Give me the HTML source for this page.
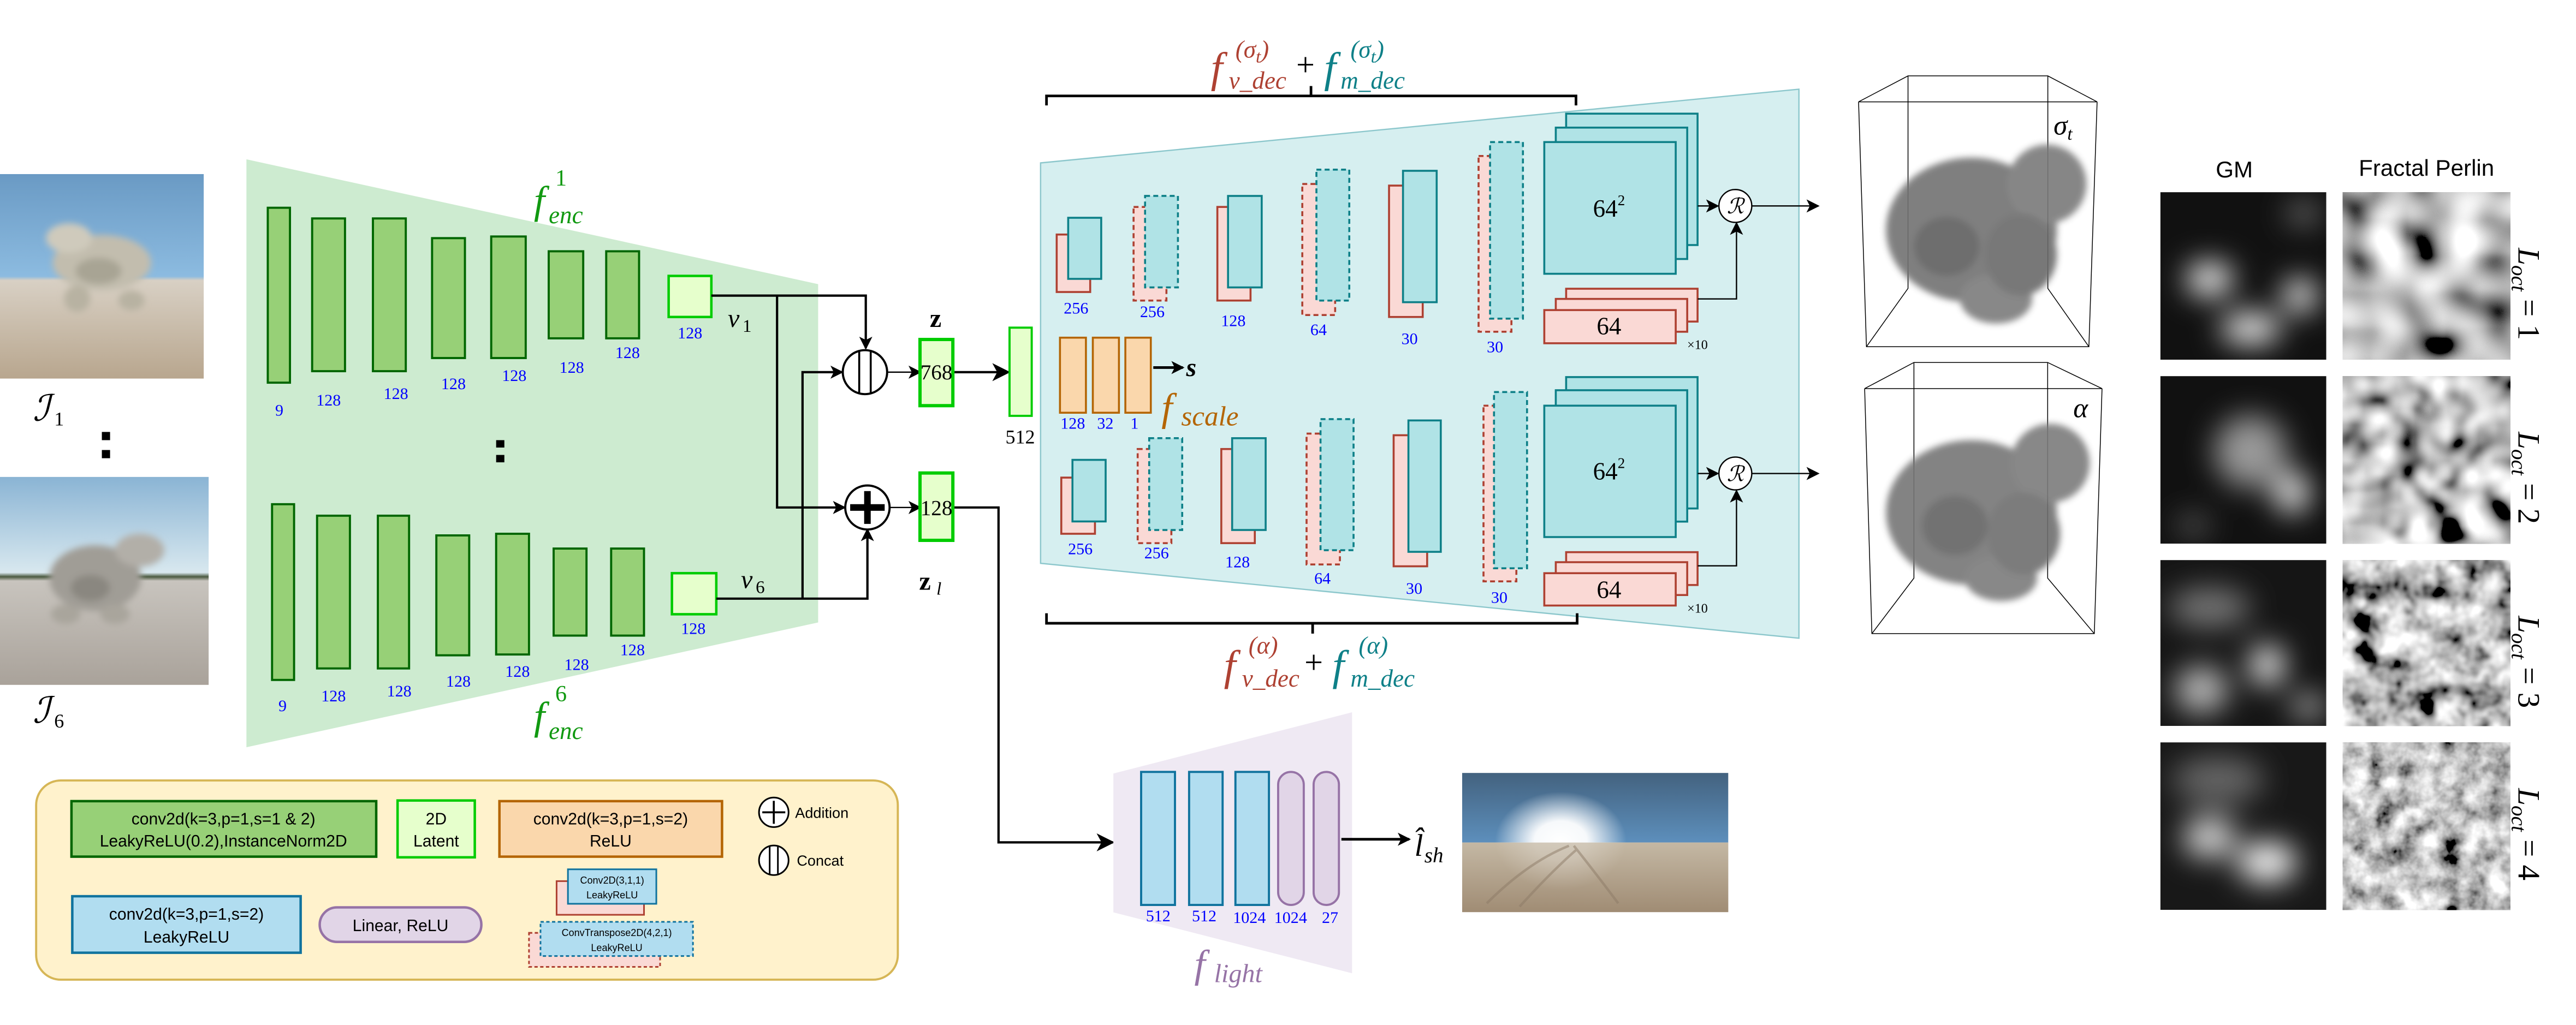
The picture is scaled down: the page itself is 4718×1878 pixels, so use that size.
<!DOCTYPE html>
<html><head><meta charset="utf-8"><style>
html,body{margin:0;padding:0;background:#fff;}
svg{display:block;}
.n{font-family:"Liberation Serif",serif;fill:#0000ff;font-size:10px;text-anchor:middle;}
.m{font-family:"Liberation Serif",serif;font-style:italic;}
.s{font-family:"Liberation Sans",sans-serif;}
</style></head><body>
<svg width="4718" height="1878" viewBox="0 0 1568 624.1" preserveAspectRatio="none" xmlns="http://www.w3.org/2000/svg">
<defs>
<marker id="ar" markerWidth="8" markerHeight="8" refX="7" refY="4" orient="auto" markerUnits="userSpaceOnUse"><path d="M0,0 L8,4 L0,8 L2,4 z" fill="#000"/></marker>
<marker id="ar2" markerWidth="11" markerHeight="11" refX="10" refY="5.5" orient="auto" markerUnits="userSpaceOnUse"><path d="M0,0 L11,5.5 L0,11 L3,5.5 z" fill="#000"/></marker>
<linearGradient id="sky1" x1="0" y1="0" x2="0" y2="1"><stop offset="0" stop-color="#6a9ac4"/><stop offset="0.5" stop-color="#8cbbe0"/><stop offset="0.52" stop-color="#d8d0c4"/><stop offset="1" stop-color="#b8a68e"/></linearGradient>
<linearGradient id="sky6" x1="0" y1="0" x2="0" y2="1"><stop offset="0" stop-color="#8ab4d4"/><stop offset="0.46" stop-color="#d8e8ef"/><stop offset="0.48" stop-color="#4a5a40"/><stop offset="0.5" stop-color="#c8c4be"/><stop offset="1" stop-color="#a9a29a"/></linearGradient>
<linearGradient id="env" x1="0" y1="0" x2="0" y2="1"><stop offset="0" stop-color="#43627f"/><stop offset="1" stop-color="#5d8fbc"/></linearGradient>
<linearGradient id="gnd" x1="0" y1="0" x2="0" y2="1"><stop offset="0" stop-color="#c4b8a4"/><stop offset="1" stop-color="#a08c74"/></linearGradient>
<radialGradient id="sun" cx="0.5" cy="0.5" r="0.5"><stop offset="0" stop-color="#fff"/><stop offset="0.4" stop-color="#fff" stop-opacity="0.95"/><stop offset="1" stop-color="#fff" stop-opacity="0"/></radialGradient>
<filter id="bl" x="-50%" y="-50%" width="200%" height="200%"><feGaussianBlur stdDeviation="2"/></filter>
<filter id="gb" x="-50%" y="-50%" width="200%" height="200%"><feGaussianBlur stdDeviation="9"/></filter>
<clipPath id="c1"><rect x="1315" y="117" width="101" height="102"/></clipPath>
<clipPath id="c2"><rect x="1315" y="229" width="101" height="102"/></clipPath>
<clipPath id="c3"><rect x="1315" y="341" width="101" height="101"/></clipPath>
<clipPath id="c4"><rect x="1315" y="452" width="101" height="102"/></clipPath>
<clipPath id="ce"><rect x="890" y="470.6" width="162" height="84.8"/></clipPath>
<filter id="p1" x="0" y="0" width="1" height="1"><feTurbulence type="fractalNoise" baseFrequency="0.045" numOctaves="1" seed="3"/><feColorMatrix type="matrix" values="1.3 1.3 1.3 0 -1.45  1.3 1.3 1.3 0 -1.45  1.3 1.3 1.3 0 -1.45  0 0 0 0 1"/></filter>
<filter id="p2" x="0" y="0" width="1" height="1"><feTurbulence type="fractalNoise" baseFrequency="0.05" numOctaves="2" seed="7"/><feColorMatrix type="matrix" values="1.3 1.3 1.3 0 -1.45  1.3 1.3 1.3 0 -1.45  1.3 1.3 1.3 0 -1.45  0 0 0 0 1"/></filter>
<filter id="p3" x="0" y="0" width="1" height="1"><feTurbulence type="fractalNoise" baseFrequency="0.06" numOctaves="3" seed="11"/><feColorMatrix type="matrix" values="1.2 1.2 1.2 0 -1.3  1.2 1.2 1.2 0 -1.3  1.2 1.2 1.2 0 -1.3  0 0 0 0 1"/></filter>
<filter id="p4" x="0" y="0" width="1" height="1"><feTurbulence type="fractalNoise" baseFrequency="0.07" numOctaves="4" seed="5"/><feColorMatrix type="matrix" values="1.1 1.1 1.1 0 -1.1  1.1 1.1 1.1 0 -1.1  1.1 1.1 1.1 0 -1.1  0 0 0 0 1"/></filter>
</defs>

<!-- input photos -->
<rect x="0" y="106" width="124" height="124.5" fill="url(#sky1)"/>
<g filter="url(#bl)"><ellipse cx="62" cy="160" rx="30" ry="17" fill="#c2bdae"/><ellipse cx="42" cy="145" rx="14" ry="9" fill="#cfcabc"/><ellipse cx="47" cy="182" rx="8" ry="8" fill="#b8b2a2"/><ellipse cx="80" cy="183" rx="8" ry="6" fill="#b8b2a2"/><ellipse cx="60" cy="165" rx="14" ry="8" fill="#a8a494"/></g>
<text x="20" y="256" class="m" font-size="22">ℐ</text><text x="33" y="259" font-family="Liberation Serif" font-size="12">1</text>
<rect x="62" y="263" width="5" height="5" fill="#000"/><rect x="62" y="274" width="5" height="5" fill="#000"/>
<rect x="0" y="290.4" width="127" height="126.6" fill="url(#sky6)"/>
<g filter="url(#bl)"><ellipse cx="58" cy="352" rx="28" ry="20" fill="#a09d96"/><ellipse cx="85" cy="335" rx="15" ry="10" fill="#b2afa8"/><ellipse cx="40" cy="374" rx="9" ry="6" fill="#a9a59c"/><ellipse cx="70" cy="374" rx="9" ry="6" fill="#a9a59c"/><ellipse cx="55" cy="358" rx="12" ry="8" fill="#8a8780"/></g>
<text x="20" y="440" class="m" font-size="22">ℐ</text><text x="33" y="443" font-family="Liberation Serif" font-size="12">6</text>

<!-- encoder -->
<polygon points="150,97 498,173 498,379 150,455" fill="#cdebd0"/>
<g fill="#97d077" stroke="#006600" stroke-width="1.3">
<rect x="163" y="126.5" width="13.5" height="106.5"/><rect x="190" y="133" width="20" height="93"/><rect x="227" y="133" width="20" height="93"/><rect x="263" y="145" width="20" height="73"/><rect x="299" y="144" width="21" height="74"/><rect x="334" y="153" width="21" height="53"/><rect x="369" y="153" width="20" height="53"/>
<rect x="165.6" y="307" width="13.4" height="107"/><rect x="193" y="314" width="20" height="93"/><rect x="230" y="314" width="19" height="93"/><rect x="265.6" y="326" width="20" height="73"/><rect x="302" y="325" width="20" height="73.5"/><rect x="337" y="334" width="20" height="53"/><rect x="372" y="334" width="20" height="53"/>
</g>
<rect x="407" y="168" width="26" height="25" fill="#e6ffcc" stroke="#00cc00" stroke-width="1.5"/>
<rect x="409" y="349" width="27" height="25" fill="#e6ffcc" stroke="#00cc00" stroke-width="1.5"/>
<text class="n" x="170" y="253">9</text><text class="n" x="200" y="247">128</text><text class="n" x="241" y="243">128</text><text class="n" x="276" y="237">128</text><text class="n" x="313" y="232">128</text><text class="n" x="348" y="227">128</text><text class="n" x="382" y="218">128</text><text class="n" x="420" y="206">128</text>
<text class="n" x="172" y="433">9</text><text class="n" x="203" y="427">128</text><text class="n" x="243" y="424">128</text><text class="n" x="279" y="418">128</text><text class="n" x="315" y="412">128</text><text class="n" x="351" y="408">128</text><text class="n" x="385" y="399">128</text><text class="n" x="422" y="386">128</text>
<rect x="302" y="268" width="5" height="4.5" fill="#000"/><rect x="302" y="277" width="5" height="4.5" fill="#000"/>
<g fill="#119911"><text class="m" x="325" y="130" font-size="24">f</text><text x="338" y="113" font-family="Liberation Serif" font-size="14">1</text><text class="m" x="334" y="136" font-size="15">enc</text>
<text class="m" x="325" y="444" font-size="24">f</text><text x="338" y="427" font-family="Liberation Serif" font-size="14">6</text><text class="m" x="334" y="450" font-size="15">enc</text></g>
<text class="m" x="443" y="199" font-size="16">v</text><text x="452" y="202" font-family="Liberation Serif" font-size="11">1</text>
<text class="m" x="451" y="358" font-size="16">v</text><text x="460" y="361" font-family="Liberation Serif" font-size="11">6</text>

<!-- connectors -->
<g fill="none" stroke="#000" stroke-width="1.4">
<polyline points="433,180 527,180 527,212" marker-end="url(#ar)"/>
<polyline points="473,180 473,309 514,309" marker-end="url(#ar)"/>
<polyline points="436,364.5 528,364.5 528,322.5" marker-end="url(#ar)"/>
<polyline points="488.5,364.5 488.5,226.6 512.5,226.6" marker-end="url(#ar)"/>
<line x1="539.5" y1="226.6" x2="560" y2="226.6" stroke-width="0.8" marker-end="url(#ar)"/>
<line x1="541" y1="309" x2="560" y2="309" stroke-width="0.8" marker-end="url(#ar)"/>
<line x1="580" y1="226.6" x2="614" y2="226.6" marker-end="url(#ar2)"/>
<polyline points="580,309 607.8,309 607.8,512.9 677.5,512.9" marker-end="url(#ar2)"/>
</g>
<ellipse cx="526.5" cy="226.6" rx="13.5" ry="13.4" fill="#fff" stroke="#000" stroke-width="1.3"/>
<line x1="523" y1="214" x2="523" y2="239" stroke="#000" stroke-width="1.2"/><line x1="530" y1="214" x2="530" y2="239" stroke="#000" stroke-width="1.2"/>
<ellipse cx="528" cy="309" rx="13.5" ry="13.4" fill="#fff" stroke="#000" stroke-width="1.3"/>
<path d="M517.5,309 H538.5 M528,299 V319" stroke="#000" stroke-width="4"/>
<rect x="560" y="206.7" width="20" height="40.3" fill="#e6ffcc" stroke="#00cc00" stroke-width="2"/>
<rect x="560" y="288" width="20" height="41" fill="#e6ffcc" stroke="#00cc00" stroke-width="2"/>
<text x="570" y="231" font-family="Liberation Serif" font-size="13" text-anchor="middle">768</text>
<text x="570" y="313.5" font-family="Liberation Serif" font-size="13" text-anchor="middle">128</text>
<text x="569.5" y="199" font-family="Liberation Serif" font-weight="bold" font-size="16" text-anchor="middle">z</text>
<text x="563" y="359" font-family="Liberation Serif" font-weight="bold" font-size="16" text-anchor="middle">z</text><text x="570" y="362" class="m" font-size="11">l</text>
<rect x="614.5" y="199.5" width="13.5" height="53.7" fill="#e6ffcc" stroke="#00cc00" stroke-width="1.3"/>
<text x="621" y="270" font-family="Liberation Serif" font-size="12" text-anchor="middle">512</text>

<!-- decoder -->
<polygon points="633.4,99.2 1095,54.3 1095,388.6 633.4,343" fill="#d6eff0" stroke="#8cc7cc" stroke-width="0.8"/>
<path d="M637,64.2 V58.4 H959.3 V64.2 M798,58.4 V52.4" fill="none" stroke="#000" stroke-width="1.6"/>
<path d="M637,373.4 V379.5 H960 V373.4 M799,379.5 V385.8" fill="none" stroke="#000" stroke-width="1.6"/>
<g>
<text class="m" x="737" y="50" font-size="26" fill="#ae4132">f</text>
<text class="m" x="752" y="35" font-size="15" fill="#ae4132">(σ<tspan font-size="11" dy="3">t</tspan><tspan dy="-3">)</tspan></text>
<text class="m" x="748" y="54" font-size="15" fill="#ae4132">v_dec</text>
<text x="789" y="46" font-family="Liberation Serif" font-size="20">+</text>
<text class="m" x="806" y="50" font-size="26" fill="#0e8088">f</text>
<text class="m" x="822" y="35" font-size="15" fill="#0e8088">(σ<tspan font-size="11" dy="3">t</tspan><tspan dy="-3">)</tspan></text>
<text class="m" x="816" y="54" font-size="15" fill="#0e8088">m_dec</text>
<text class="m" x="745" y="414" font-size="26" fill="#ae4132">f</text>
<text class="m" x="760" y="398" font-size="15" fill="#ae4132">(α)</text>
<text class="m" x="756" y="418" font-size="15" fill="#ae4132">v_dec</text>
<text x="794" y="410" font-family="Liberation Serif" font-size="20">+</text>
<text class="m" x="811" y="414" font-size="26" fill="#0e8088">f</text>
<text class="m" x="827" y="398" font-size="15" fill="#0e8088">(α)</text>
<text class="m" x="822" y="418" font-size="15" fill="#0e8088">m_dec</text>
</g>
<g stroke-width="1.2">
<rect x="643.2" y="142.8" width="20.4" height="35" fill="#fad9d5" stroke="#ae4132"/><rect x="650.2" y="132.6" width="20.1" height="37.2" fill="#b0e3e6" stroke="#0e8088"/>
<rect x="690" y="126" width="20" height="57" fill="#fad9d5" stroke="#ae4132" stroke-dasharray="3,2"/><rect x="697" y="119.3" width="20" height="55.7" fill="#b0e3e6" stroke="#0e8088" stroke-dasharray="3,2"/>
<rect x="741" y="126" width="20.2" height="57" fill="#fad9d5" stroke="#ae4132"/><rect x="747.5" y="119.3" width="20.5" height="55.7" fill="#b0e3e6" stroke="#0e8088"/>
<rect x="792.7" y="112" width="20" height="79.8" fill="#fad9d5" stroke="#ae4132" stroke-dasharray="3,2"/><rect x="801.3" y="103.3" width="20" height="79.7" fill="#b0e3e6" stroke="#0e8088" stroke-dasharray="3,2"/>
<rect x="845.5" y="113" width="20.5" height="80" fill="#fad9d5" stroke="#ae4132"/><rect x="854" y="104" width="20.5" height="80" fill="#b0e3e6" stroke="#0e8088"/>
<rect x="900" y="95" width="20" height="107" fill="#fad9d5" stroke="#ae4132" stroke-dasharray="3,2"/><rect x="907" y="86.5" width="20" height="107.5" fill="#b0e3e6" stroke="#0e8088" stroke-dasharray="3,2"/>
<rect x="646" y="290.8" width="20.5" height="34.2" fill="#fad9d5" stroke="#ae4132"/><rect x="652.8" y="280" width="20.2" height="37.5" fill="#b0e3e6" stroke="#0e8088"/>
<rect x="692.5" y="273.4" width="20.5" height="57.3" fill="#fad9d5" stroke="#ae4132" stroke-dasharray="3,2"/><rect x="699.5" y="266.8" width="20.1" height="55.9" fill="#b0e3e6" stroke="#0e8088" stroke-dasharray="3,2"/>
<rect x="743.4" y="273.4" width="20.4" height="57.3" fill="#fad9d5" stroke="#ae4132"/><rect x="750" y="266.8" width="20.4" height="55.9" fill="#b0e3e6" stroke="#0e8088"/>
<rect x="795.3" y="264" width="20.3" height="79.7" fill="#fad9d5" stroke="#ae4132" stroke-dasharray="3,2"/><rect x="803.8" y="255.2" width="20.1" height="79.8" fill="#b0e3e6" stroke="#0e8088" stroke-dasharray="3,2"/>
<rect x="848.3" y="265" width="20.4" height="79.8" fill="#fad9d5" stroke="#ae4132"/><rect x="857.3" y="256" width="19.7" height="80" fill="#b0e3e6" stroke="#0e8088"/>
<rect x="903" y="247" width="20" height="107" fill="#fad9d5" stroke="#ae4132" stroke-dasharray="3,2"/><rect x="909.4" y="238.7" width="20.1" height="107.3" fill="#b0e3e6" stroke="#0e8088" stroke-dasharray="3,2"/>
<rect x="953.3" y="69.2" width="80" height="80" fill="#b0e3e6" stroke="#0e8088"/><rect x="947" y="77.7" width="80" height="80" fill="#b0e3e6" stroke="#0e8088"/><rect x="940" y="86.5" width="80" height="80.2" fill="#b0e3e6" stroke="#0e8088"/>
<rect x="953.3" y="175.8" width="80" height="20" fill="#fad9d5" stroke="#ae4132"/><rect x="947" y="182" width="80" height="20" fill="#fad9d5" stroke="#ae4132"/><rect x="940" y="188.8" width="80" height="20.2" fill="#fad9d5" stroke="#ae4132"/>
<rect x="953.3" y="229.6" width="80" height="80" fill="#b0e3e6" stroke="#0e8088"/><rect x="947" y="237.6" width="80" height="80" fill="#b0e3e6" stroke="#0e8088"/><rect x="940" y="247" width="80" height="80" fill="#b0e3e6" stroke="#0e8088"/>
<rect x="953.3" y="336.2" width="80" height="20" fill="#fad9d5" stroke="#ae4132"/><rect x="947" y="342.3" width="80" height="20" fill="#fad9d5" stroke="#ae4132"/><rect x="940" y="349" width="80" height="19.7" fill="#fad9d5" stroke="#ae4132"/>
<rect x="645.2" y="205.6" width="15.8" height="45.7" fill="#fad7ac" stroke="#b46504"/><rect x="665.2" y="205.6" width="15.9" height="45.7" fill="#fad7ac" stroke="#b46504"/><rect x="685" y="205.6" width="15.5" height="45.7" fill="#fad7ac" stroke="#b46504"/>
</g>
<text class="n" x="655" y="191">256</text><text class="n" x="701.4" y="193">256</text><text class="n" x="750.7" y="198.5">128</text><text class="n" x="802.6" y="204">64</text><text class="n" x="858" y="209.5">30</text><text class="n" x="910" y="214.5">30</text>
<text class="n" x="657.6" y="337.5">256</text><text class="n" x="704" y="340">256</text><text class="n" x="753.3" y="345.5">128</text><text class="n" x="805" y="355.5">64</text><text class="n" x="860.8" y="361.5">30</text><text class="n" x="912.6" y="367">30</text>
<text class="n" x="653" y="261">128</text><text class="n" x="672.8" y="261">32</text><text class="n" x="690.6" y="261">1</text>
<line x1="702" y1="223.8" x2="720" y2="223.8" stroke="#000" stroke-width="1.6" marker-end="url(#ar)"/>
<text x="722" y="229" font-family="Liberation Serif" font-style="italic" font-weight="bold" font-size="16">s</text>
<text class="m" x="707" y="256" font-size="24" fill="#b46504">f</text><text class="m" x="719" y="259" font-size="17" fill="#b46504">scale</text>
<text x="979.4" y="132" font-family="Liberation Serif" font-size="15" text-anchor="middle">64<tspan font-size="9" dy="-7">2</tspan></text>
<text x="979.4" y="292" font-family="Liberation Serif" font-size="15" text-anchor="middle">64<tspan font-size="9" dy="-7">2</tspan></text>
<text x="979.4" y="203.5" font-family="Liberation Serif" font-size="15" text-anchor="middle">64</text>
<text x="979.4" y="364" font-family="Liberation Serif" font-size="15" text-anchor="middle">64</text>
<text x="1027" y="212.5" font-family="Liberation Serif" font-size="8">×10</text>
<text x="1027" y="373" font-family="Liberation Serif" font-size="8">×10</text>
<g fill="none" stroke="#000" stroke-width="0.8">
<line x1="1033.4" y1="125.4" x2="1045.5" y2="125.4" marker-end="url(#ar)"/>
<polyline points="1033.4,182 1057,182 1057,136" marker-end="url(#ar)"/>
<line x1="1066.3" y1="125.4" x2="1106.6" y2="125.4" marker-end="url(#ar)"/>
<line x1="1033.4" y1="288.3" x2="1045.5" y2="288.3" marker-end="url(#ar)"/>
<polyline points="1033.4,344.5 1057,344.5 1057,299" marker-end="url(#ar)"/>
<line x1="1066.3" y1="288.3" x2="1106.6" y2="288.3" marker-end="url(#ar)"/>
</g>
<circle cx="1056.3" cy="125.4" r="10" fill="#fff" stroke="#000" stroke-width="0.8"/><text x="1056.3" y="130" class="m" font-size="13" text-anchor="middle">ℛ</text>
<circle cx="1056.3" cy="288.3" r="10" fill="#fff" stroke="#000" stroke-width="0.8"/><text x="1056.3" y="293" class="m" font-size="13" text-anchor="middle">ℛ</text>

<!-- volume boxes -->
<g fill="none" stroke="#000" stroke-width="0.5">
<path d="M1131.3,62 L1161.4,46.2 L1246.5,46.2 L1276.5,62 Z M1131.3,62 L1136.1,211.1 L1271.5,211.1 L1276.5,62 M1161.4,46.2 V175.6 L1136.1,211.1 M1246.5,46.2 V175.6 L1271.5,211.1"/>
<path d="M1135,236.6 L1165,220.7 L1246.4,220.7 L1279.5,236.6 Z M1135,236.6 L1139.4,385.8 L1274.8,385.8 L1279.5,236.6 M1165,220.7 V352 L1139.4,385.8 M1246.4,220.7 V352 L1274.8,385.8"/>
</g>
<g filter="url(#bl)" opacity="0.9">
<ellipse cx="1200" cy="140" rx="52" ry="44" fill="#727272"/><ellipse cx="1246" cy="112" rx="24" ry="24" fill="#7a7a7a"/><ellipse cx="1215" cy="182" rx="22" ry="15" fill="#7c7c7c"/><ellipse cx="1230" cy="155" rx="22" ry="25" fill="#6a6a6a"/><ellipse cx="1185" cy="150" rx="20" ry="18" fill="#5f5f5f"/>
<ellipse cx="1200" cy="312" rx="52" ry="44" fill="#767676"/><ellipse cx="1248" cy="282" rx="24" ry="24" fill="#7c7c7c"/><ellipse cx="1218" cy="352" rx="22" ry="14" fill="#7c7c7c"/><ellipse cx="1232" cy="325" rx="22" ry="25" fill="#6e6e6e"/><ellipse cx="1190" cy="320" rx="20" ry="18" fill="#646464"/>
</g>
<text x="1250" y="82" class="m" font-size="17">σ<tspan font-size="11" dy="3">t</tspan></text>
<text x="1262" y="254" class="m" font-size="17">α</text>

<!-- textures -->
<text x="1360" y="108" class="s" font-size="14" text-anchor="middle">GM</text>
<text x="1477" y="107" class="s" font-size="14" text-anchor="middle">Fractal Perlin</text>
<g clip-path="url(#c1)"><rect x="1315" y="117" width="101" height="102" fill="#111"/><g filter="url(#gb)" fill="#fff"><ellipse cx="1345" cy="170" rx="14" ry="10"/><ellipse cx="1370" cy="200" rx="18" ry="9"/><ellipse cx="1400" cy="180" rx="10" ry="10"/><ellipse cx="1402" cy="130" rx="10" ry="6" fill="#888"/></g></g>
<g clip-path="url(#c2)"><rect x="1315" y="229" width="101" height="102" fill="#111"/><g filter="url(#gb)"><ellipse cx="1370" cy="275" rx="22" ry="22" fill="#999"/><ellipse cx="1395" cy="300" rx="10" ry="12" fill="#fff"/><ellipse cx="1335" cy="320" rx="10" ry="6" fill="#666"/></g></g>
<g clip-path="url(#c3)"><rect x="1315" y="341" width="101" height="101" fill="#151515"/><g filter="url(#gb)"><ellipse cx="1345" cy="370" rx="25" ry="12" fill="#777"/><ellipse cx="1380" cy="405" rx="10" ry="12" fill="#fff"/><ellipse cx="1340" cy="420" rx="16" ry="14" fill="#bbb"/><ellipse cx="1405" cy="430" rx="10" ry="6" fill="#ddd"/></g></g>
<g clip-path="url(#c4)"><rect x="1315" y="452" width="101" height="102" fill="#181818"/><g filter="url(#gb)"><ellipse cx="1345" cy="510" rx="16" ry="12" fill="#ddd"/><ellipse cx="1380" cy="525" rx="18" ry="12" fill="#fff"/><ellipse cx="1350" cy="475" rx="28" ry="14" fill="#666"/></g></g>
<rect x="1426" y="117" width="102" height="102" filter="url(#p1)"/>
<rect x="1426" y="229" width="102" height="102" filter="url(#p2)"/>
<rect x="1426" y="341" width="102" height="101" filter="url(#p3)"/>
<rect x="1426" y="452" width="102" height="102" filter="url(#p4)"/>
<g font-family="Liberation Serif" font-size="19">
<text transform="translate(1533,179) rotate(90)" text-anchor="middle"><tspan font-style="italic">L</tspan><tspan font-style="italic" font-size="13" dy="4">oct</tspan><tspan dy="-4"> = 1</tspan></text>
<text transform="translate(1533,291) rotate(90)" text-anchor="middle"><tspan font-style="italic">L</tspan><tspan font-style="italic" font-size="13" dy="4">oct</tspan><tspan dy="-4"> = 2</tspan></text>
<text transform="translate(1533,403) rotate(90)" text-anchor="middle"><tspan font-style="italic">L</tspan><tspan font-style="italic" font-size="13" dy="4">oct</tspan><tspan dy="-4"> = 3</tspan></text>
<text transform="translate(1533,508) rotate(90)" text-anchor="middle"><tspan font-style="italic">L</tspan><tspan font-style="italic" font-size="13" dy="4">oct</tspan><tspan dy="-4"> = 4</tspan></text>
</g>

<!-- light -->
<polygon points="677.7,471 823,433.7 823,592.6 677.7,555.5" fill="#efe9f3"/>
<g stroke-width="1.3">
<rect x="694.6" y="470" width="20.6" height="81" fill="#b1ddf0" stroke="#10739e"/>
<rect x="723.8" y="470" width="20.4" height="81" fill="#b1ddf0" stroke="#10739e"/>
<rect x="752" y="470" width="20.4" height="81" fill="#b1ddf0" stroke="#10739e"/>
<rect x="778" y="470" width="15.6" height="81" rx="7.8" fill="#e1d5e7" stroke="#9673a6"/>
<rect x="799.6" y="470" width="15.4" height="81" rx="7.7" fill="#e1d5e7" stroke="#9673a6"/>
</g>
<text class="n" x="705" y="561">512</text><text class="n" x="733" y="561">512</text><text class="n" x="760.5" y="562">1024</text><text class="n" x="785.6" y="562">1024</text><text class="n" x="809.6" y="562">27</text>
<line x1="816.5" y1="511" x2="857.8" y2="511" stroke="#000" stroke-width="1.6" marker-end="url(#ar)"/>
<text x="861" y="521" class="m" font-size="19">l̂</text><text x="867" y="525" class="m" font-size="13">sh</text>
<text x="727" y="595" class="m" font-size="24" fill="#9673a6">f</text><text x="739" y="598" class="m" font-size="16" fill="#9673a6">light</text>
<g clip-path="url(#ce)">
<rect x="890" y="470.6" width="162" height="42.4" fill="url(#env)"/>
<rect x="890" y="513" width="162" height="42.4" fill="url(#gnd)"/>
<ellipse cx="950" cy="512" rx="40" ry="30" fill="url(#sun)"/>
<rect x="890" y="513" width="162" height="42.4" fill="url(#gnd)" opacity="0.75"/>
<path d="M905,550 Q930,525 955,515 M925,552 Q945,530 960,517 M985,550 Q970,530 958,515" stroke="#8c7a66" stroke-width="1.5" fill="none" opacity="0.5"/>
</g>

<!-- legend -->
<rect x="22" y="475.2" width="524.5" height="121.3" rx="15" fill="#fff2cc" stroke="#d6b656" stroke-width="1.3"/>
<rect x="43.5" y="487.8" width="185.5" height="33.8" fill="#97d077" stroke="#006600" stroke-width="1.5"/>
<text x="136" y="502" class="s" font-size="10" text-anchor="middle">conv2d(k=3,p=1,s=1 &amp; 2)</text>
<text x="136" y="515.5" class="s" font-size="10" text-anchor="middle">LeakyReLU(0.2),InstanceNorm2D</text>
<rect x="242" y="487.4" width="47" height="34.6" fill="#e6ffcc" stroke="#00cc00" stroke-width="1.5"/>
<text x="265.5" y="502" class="s" font-size="10" text-anchor="middle">2D</text><text x="265.5" y="515.5" class="s" font-size="10" text-anchor="middle">Latent</text>
<rect x="304" y="487.8" width="135.5" height="33.8" fill="#fad7ac" stroke="#b46504" stroke-width="1.5"/>
<text x="371.7" y="502" class="s" font-size="10" text-anchor="middle">conv2d(k=3,p=1,s=2)</text><text x="371.7" y="515.5" class="s" font-size="10" text-anchor="middle">ReLU</text>
<circle cx="471" cy="494.6" r="9" fill="#fff" stroke="#000" stroke-width="1"/><path d="M464,494.6 H478 M471,487.6 V501.6" stroke="#000" stroke-width="1.2"/>
<text x="484" y="498" class="s" font-size="9">Addition</text>
<circle cx="471" cy="523.8" r="9" fill="#fff" stroke="#000" stroke-width="1"/><path d="M468.5,515.5 V532 M473.5,515.5 V532" stroke="#000" stroke-width="1"/>
<text x="485" y="527" class="s" font-size="9">Concat</text>
<rect x="44" y="545.7" width="139" height="34.4" fill="#b1ddf0" stroke="#10739e" stroke-width="1.5"/>
<text x="113.5" y="560" class="s" font-size="10" text-anchor="middle">conv2d(k=3,p=1,s=2)</text><text x="113.5" y="574" class="s" font-size="10" text-anchor="middle">LeakyReLU</text>
<rect x="194.6" y="552.5" width="98.4" height="21" rx="10.5" fill="#e1d5e7" stroke="#9673a6" stroke-width="1.5"/>
<text x="243.8" y="567" class="s" font-size="10" text-anchor="middle">Linear, ReLU</text>
<rect x="338.8" y="536.5" width="53.2" height="20.5" fill="#fad9d5" stroke="#ae4132" stroke-width="1"/>
<rect x="345.7" y="529.3" width="53.8" height="21" fill="#b1ddf0" stroke="#10739e" stroke-width="1"/>
<text x="372.6" y="538" class="s" font-size="6" text-anchor="middle">Conv2D(3,1,1)</text><text x="372.6" y="547" class="s" font-size="6" text-anchor="middle">LeakyReLU</text>
<rect x="322" y="568" width="79.8" height="20.7" fill="#fad9d5" stroke="#ae4132" stroke-width="1" stroke-dasharray="2,1.5"/>
<rect x="329" y="561.3" width="92.8" height="20.8" fill="#b1ddf0" stroke="#10739e" stroke-width="1" stroke-dasharray="2,1.5"/>
<text x="375.4" y="570" class="s" font-size="6" text-anchor="middle">ConvTranspose2D(4,2,1)</text><text x="375.4" y="579" class="s" font-size="6" text-anchor="middle">LeakyReLU</text>
</svg>
</body></html>
